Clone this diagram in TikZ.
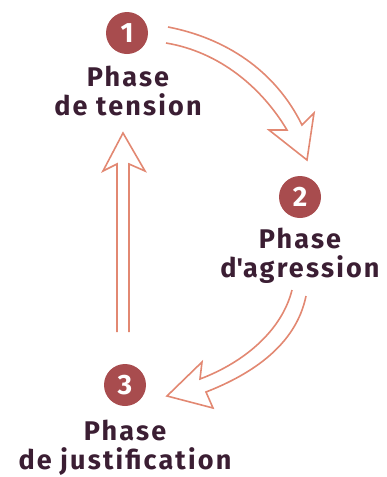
\documentclass[tikz,border=0pt]{standalone}
\usepackage{fontspec}
\setmainfont{Fira Sans}
\newfontfamily\espacee[LetterSpace=8]{Fira Sans}
\definecolor{bordeaux}{RGB}{168, 76, 78}
\definecolor{aubergine}{RGB}{59, 30, 51}
\definecolor{saumon}{RGB}{226, 136, 114}
\tikzset{
  pastille/.style={circle, fill=bordeaux, minimum size=42pt, inner sep=0pt, text=white,
    font=\fontsize{28}{28}\selectfont\bfseries},
  phase/.style={align=center, text=aubergine, anchor=base,
    font=\espacee\fontsize{27}{29}\selectfont\bfseries},
  fleche/.style={draw=saumon, line width=1.6pt, line join=miter}
}
\begin{document}
\begin{tikzpicture}[x=1pt, y=-1pt]
            \useasboundingbox (0,0) rectangle (386,477);
            % les trois phases
            \node[pastille] (c1) at (127, 33) {1};
            \node[pastille] (c2) at (300,197) {2};
            \node[pastille] (c3) at (125,385) {3};
            \node[phase]    (t1) at (128,115) {Phase\\de tension};
            \node[phase]    (t2) at (300,277) {Phase\\d\textquotesingle agression};
            \node[phase]    (t3) at (125,469) {Phase\\de justification};
            % fleches creuses
            \draw[fleche] (166, 43) .. controls (220, 52) and (262, 88) .. (287,130)
                 -- (269,130) -- (307,160) -- (314,113) -- (302,125)
                 .. controls (275, 70) and (225, 38) .. (168, 27);
            \draw[fleche] (292,290) .. controls (282,330) and (245,362) .. (200,379)
                 -- (202,362) -- (167,396) -- (213,408) -- (206,392)
                 .. controls (252,374) and (296,345) .. (306,296);
            \draw[fleche] (117,332) -- (117,164) -- (103,171) -- (123,133)
                 -- (145,171) -- (129,164) -- (129,332);
        \end{tikzpicture}
\end{document}
